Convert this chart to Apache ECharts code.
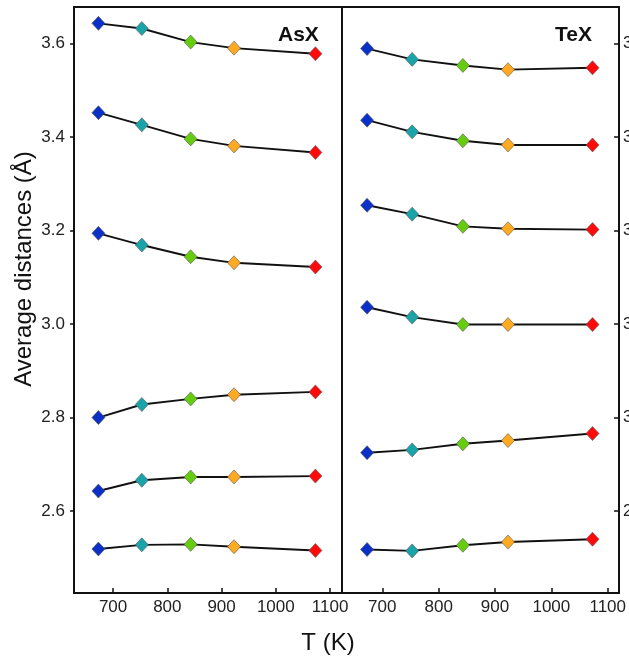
<!DOCTYPE html>
<html lang="en">
<head>
  <meta charset="UTF-8">
  <title>Average distances vs T</title>
  <style>
    html, body { margin: 0; padding: 0; background: #fff; }
    #chart { width: 629px; height: 658px; }
  </style>
</head>
<body>
  <div id="chart"></div>

  <script src="https://cdn.jsdelivr.net/npm/echarts@6/dist/echarts.min.js"></script>
  <script>
    // temperatures (K), shared by both panels
    const temps = [673, 753, 843, 923, 1073];

    // AsX panel, one array per distance curve (top to bottom)
    const asX = [
      [3.643, 3.632, 3.603, 3.590, 3.578],
      [3.452, 3.426, 3.396, 3.381, 3.367],
      [3.194, 3.169, 3.144, 3.131, 3.122],
      [2.800, 2.828, 2.840, 2.849, 2.855],
      [2.643, 2.666, 2.673, 2.673, 2.675],
      [2.519, 2.528, 2.529, 2.524, 2.516]
    ];

    // TeX panel (right axis)
    const teX = [
      [3.789, 3.766, 3.753, 3.744, 3.748],
      [3.636, 3.611, 3.592, 3.583, 3.583],
      [3.454, 3.435, 3.409, 3.404, 3.402],
      [3.236, 3.215, 3.199, 3.199, 3.199],
      [2.925, 2.931, 2.944, 2.951, 2.966],
      [2.718, 2.715, 2.727, 2.734, 2.740]
    ];

    // one colour per temperature
    const pointColors = ['#0a30c8', '#1aa3a8', '#66cc10', '#ffaa20', '#ff0a0a'];

    // tick labels
    const xTicks = [700, 800, 900, 1000, 1100];
    const yTicksLeft = [2.6, 2.8, 3.0, 3.2, 3.4, 3.6];
    const yTicksRight = [2.8, 3.0, 3.2, 3.4, 3.6, 3.8];

    const font = 'Liberation Sans, Arial, sans-serif';

    function makeSeries(rows, idx) {
      return rows.map(function (vals) {
        return {
          type: 'line',
          xAxisIndex: idx,
          yAxisIndex: idx,
          data: temps.map(function (t, i) { return [t, vals[i]]; }),
          symbol: 'diamond',
          symbolSize: [13, 14],
          lineStyle: { color: '#111', width: 1.9 },
          itemStyle: {
            color: function (p) { return pointColors[p.dataIndex]; },
            borderColor: '#555',
            borderWidth: 0.6
          },
          emphasis: { disabled: true },
          animation: false
        };
      });
    }

    const labelStyle = { fontFamily: font, fontSize: 17, color: '#222' };
    const tickLine = { color: '#111', width: 1.5 };

    function xAxisFor(idx, min, max) {
      return {
        type: 'value', gridIndex: idx, min: min, max: max,
        splitLine: { show: false },
        axisLine: { show: false },
        axisTick: { show: true, inside: true, length: 5, customValues: xTicks, lineStyle: tickLine },
        axisLabel: Object.assign({
          margin: 6, customValues: xTicks,
          formatter: function (v) { return String(v); }
        }, labelStyle)
      };
    }

    const chart = echarts.init(document.getElementById('chart'));
    chart.setOption({
      backgroundColor: '#fff',
      grid: [
        { left: 74, top: 7, width: 268, height: 586, show: true, borderColor: '#111', borderWidth: 2, outerBoundsMode: 'none', containLabel: false },
        { left: 342, top: 7, width: 277, height: 586, show: true, borderColor: '#111', borderWidth: 2, outerBoundsMode: 'none', containLabel: false }
      ],
      xAxis: [
        xAxisFor(0, 628, 1122),
        xAxisFor(1, 628.5, 1120)
      ],
      yAxis: [
        {
          type: 'value', gridIndex: 0, position: 'left', min: 2.425, max: 3.678,
          splitLine: { show: false },
          axisLine: { show: false },
          axisTick: { show: true, inside: false, length: 4, customValues: yTicksLeft, lineStyle: tickLine },
          axisLabel: Object.assign({
            margin: 9, customValues: yTicksLeft,
            formatter: function (v) { return v.toFixed(1); }
          }, labelStyle)
        },
        {
          type: 'value', gridIndex: 1, position: 'right', min: 2.625, max: 3.878,
          splitLine: { show: false },
          axisLine: { show: false },
          axisTick: { show: true, inside: true, length: 5, customValues: yTicksRight, lineStyle: tickLine },
          axisLabel: Object.assign({
            margin: 4, customValues: yTicksRight,
            formatter: function (v) { return v.toFixed(1); }
          }, labelStyle)
        }
      ],
      graphic: [
        {
          type: 'text', left: 278, top: 25,
          style: { text: 'AsX', font: 'bold 21px ' + font, fill: '#111' }
        },
        {
          type: 'text', left: 555, top: 25,
          style: { text: 'TeX', font: 'bold 21px ' + font, fill: '#111' }
        },
        {
          type: 'text', x: 24, y: 269, rotation: Math.PI / 2,
          style: {
            text: 'Average distances (Å)', font: '24px ' + font, fill: '#111',
            align: 'center', verticalAlign: 'middle'
          }
        },
        {
          type: 'text', x: 328, y: 643,
          style: {
            text: 'T (K)', font: '24px ' + font, fill: '#111',
            align: 'center', verticalAlign: 'middle'
          }
        }
      ],
      series: makeSeries(asX, 0).concat(makeSeries(teX, 1))
    });
  </script>
</body>
</html>
